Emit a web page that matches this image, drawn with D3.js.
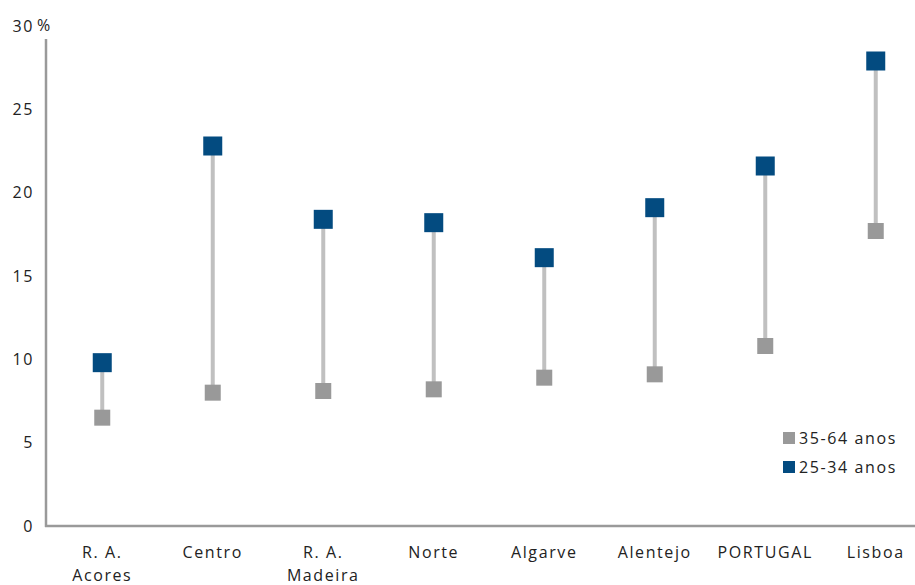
<!DOCTYPE html>
<html><head><meta charset="utf-8">
<script src="https://cdn.jsdelivr.net/npm/d3@7"></script>
<style>body{margin:0;background:#fff}svg{display:block}text{font-family:"Open Sans",sans-serif;fill:#222;letter-spacing:1.6px}</style>
</head><body>
<svg id="c" width="915" height="585"></svg>
<script>
const categories = ["R. A.\nAcores","Centro","R. A.\nMadeira","Norte","Algarve","Alentejo","PORTUGAL","Lisboa"];
const older = [6.5, 8.0, 8.1, 8.2, 8.9, 9.1, 10.8, 17.7];   // 35-64 anos
const younger = [9.8, 22.8, 18.4, 18.2, 16.1, 19.1, 21.6, 27.9]; // 25-34 anos
const yTicks = [0,5,10,15,20,25,30];
const legendLabels = ["35-64 anos","25-34 anos"];

const svg = d3.select("#c");
const x = d3.scaleBand().domain(categories).range([47, 931]);
const y = d3.scaleLinear().domain([0,30]).range([526, 26]);
const grayC = "#999999", blueC = "#034b80", lineC = "#c0c0c0";

// axes
svg.append("line").attr("x1",46).attr("x2",46).attr("y1",39).attr("y2",y(0)+1)
  .attr("stroke","#9a9a9a").attr("stroke-width",2.5);
svg.append("line").attr("x1",45).attr("x2",915).attr("y1",y(0)).attr("y2",y(0))
  .attr("stroke","#9a9a9a").attr("stroke-width",2.5);

svg.selectAll("text.yt").data(yTicks).enter().append("text")
  .attr("class","yt").attr("x",34).attr("y",d=>y(d)).attr("dy","0.35em")
  .attr("text-anchor","end").attr("font-size",16)
  .text(d=>d);
svg.append("text").attr("x",37).attr("y",y(30)-1).attr("dy","0.35em")
  .attr("font-size",16).text("%");

// x labels
categories.forEach(c=>{
  const t = svg.append("text").attr("x",x(c)+x.bandwidth()/2).attr("y",558)
    .attr("text-anchor","middle").attr("font-size",16);
  c.split("\n").forEach((s,i)=>t.append("tspan").attr("x",x(c)+x.bandwidth()/2).attr("dy",i?23:0).text(s));
});

const cx = c=>x(c)+x.bandwidth()/2;
// connecting lines
svg.selectAll("line.rng").data(categories).enter().append("line")
  .attr("x1",cx).attr("x2",cx)
  .attr("y1",(c,i)=>y(older[i])).attr("y2",(c,i)=>y(younger[i]))
  .attr("stroke",lineC).attr("stroke-width",4);
// older markers
svg.selectAll("rect.o").data(categories).enter().append("rect")
  .attr("x",c=>cx(c)-8).attr("y",(c,i)=>y(older[i])-8)
  .attr("width",16).attr("height",16).attr("fill",grayC);
// younger markers
svg.selectAll("rect.yg").data(categories).enter().append("rect")
  .attr("x",c=>cx(c)-9.5).attr("y",(c,i)=>y(younger[i])-9.5)
  .attr("width",19).attr("height",19).attr("fill",blueC);

// legend
const lg = svg.append("g");
[grayC, blueC].forEach((col,i)=>{
  lg.append("rect").attr("x",783).attr("y",432+i*29).attr("width",12).attr("height",12).attr("fill",col);
  lg.append("text").attr("x",799).attr("y",438+i*29).attr("dy","0.35em").attr("font-size",16).text(legendLabels[i]);
});
</script>
</body></html>
